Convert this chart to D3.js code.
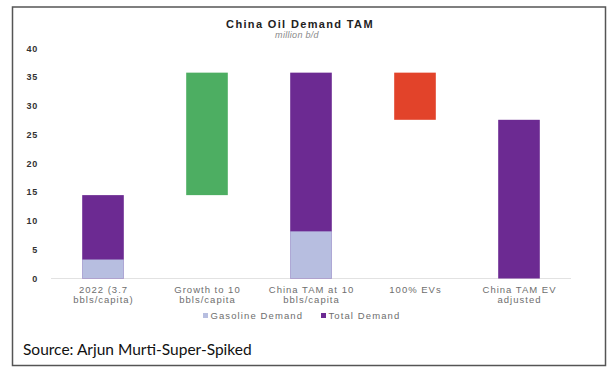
<!DOCTYPE html>
<html>
<head>
<meta charset="utf-8">
<script src="https://cdn.jsdelivr.net/npm/d3@7"></script>
<style>
  body { margin: 0; background: #fff; }
  svg { display: block; }
</style>
</head>
<body>
<div id="chart"></div>
<script>
// data (million b/d)
const categories = ["2022 (3.7|bbls/capita)", "Growth to 10|bbls/capita", "China TAM at 10|bbls/capita", "100% EVs", "China TAM EV|adjusted"];
const gasolineDemand = [3.3, 0, 8.2, 0, 0];
const totalDemand = [14.5, 0, 35.8, 0, 27.6];
const stepFrom = [0, 14.5, 0, 35.8, 0];
const stepTo = [0, 35.8, 0, 27.6, 0];
const stepColors = [null, "#4dae62", null, "#e2432a", null];
const yTicks = [0, 5, 10, 15, 20, 25, 30, 35, 40];

const W = 611, H = 376;
const purple = "#6c2a92", lilac = "#b7bee0";
const font = "Liberation Sans, Arial, sans-serif";

const svg = d3.select("#chart").append("svg")
    .attr("width", W)
    .attr("height", H);

// outer frame
svg.append("rect")
    .attr("x", 12.5).attr("y", 7)
    .attr("width", 593).attr("height", 358.5)
    .attr("fill", "#fff")
    .attr("stroke", "#555")
    .attr("stroke-width", 1.5);

let x = d3.scaleBand()
    .domain(categories)
    .range([51, 571])
    .paddingInner(0.6)
    .paddingOuter(0.3);

let y = d3.scaleLinear()
    .domain([0, 40])
    .range([278.5, 48.5]);

// title
svg.append("text")
    .attr("x", 300).attr("y", 28)
    .attr("text-anchor", "middle")
    .style("font-family", font)
    .style("font-weight", "bold")
    .style("font-size", "11px")
    .style("letter-spacing", "1.35px")
    .style("fill", "#222")
    .text("China Oil Demand TAM");

svg.append("text")
    .attr("x", 297).attr("y", 38)
    .attr("text-anchor", "middle")
    .style("font-family", font)
    .style("font-style", "italic")
    .style("font-size", "9px")
    .style("letter-spacing", "0.3px")
    .style("fill", "#8a8a8a")
    .text("million b/d");

// y tick labels
svg.append("g").selectAll("text")
    .data(yTicks)
    .enter().append("text")
    .attr("x", 38)
    .attr("y", function(d) { return y(d); })
    .attr("dy", "0.35em")
    .attr("text-anchor", "end")
    .style("font-family", font)
    .style("font-weight", "bold")
    .style("font-size", "9px")
    .style("letter-spacing", "0.8px")
    .style("fill", "#333")
    .text(function(d) { return d; });

// baseline
svg.append("line")
    .attr("x1", x.range()[0]).attr("x2", x.range()[1])
    .attr("y1", y(0)).attr("y2", y(0))
    .attr("stroke", "#e2e2e2")
    .attr("stroke-width", 1);

const bars = svg.append("g");

// total demand
bars.selectAll("rect.total")
    .data(categories)
    .enter().append("rect")
    .attr("class", "total")
    .attr("x", function(d) { return x(d); })
    .attr("width", x.bandwidth())
    .attr("y", function(d, i) { return y(totalDemand[i]); })
    .attr("height", function(d, i) { return y(0) - y(totalDemand[i]); })
    .attr("fill", purple);

// gasoline demand
bars.selectAll("rect.gas")
    .data(categories)
    .enter().append("rect")
    .attr("class", "gas")
    .attr("x", function(d) { return x(d); })
    .attr("width", x.bandwidth())
    .attr("y", function(d, i) { return y(gasolineDemand[i]); })
    .attr("height", function(d, i) { return y(0) - y(gasolineDemand[i]); })
    .attr("fill", lilac);

// floating steps (growth / EV reduction)
bars.selectAll("rect.step")
    .data(categories)
    .enter().append("rect")
    .attr("class", "step")
    .attr("x", function(d) { return x(d); })
    .attr("width", x.bandwidth())
    .attr("y", function(d, i) { return y(Math.max(stepFrom[i], stepTo[i])); })
    .attr("height", function(d, i) { return Math.abs(y(stepFrom[i]) - y(stepTo[i])); })
    .attr("fill", function(d, i) { return stepColors[i] || "none"; });

// category labels (two lines)
const lbl = svg.append("g").selectAll("text")
    .data(categories)
    .enter().append("text")
    .attr("text-anchor", "middle")
    .style("font-family", font)
    .style("font-size", "9.5px")
    .style("letter-spacing", "1px")
    .style("fill", "#6e6e6e");
lbl.selectAll("tspan")
    .data(function(d) { return d.split("|").map(function(t) { return {t: t, c: d}; }); })
    .enter().append("tspan")
    .attr("x", function(d) { return x(d.c) + x.bandwidth() / 2 + 0.5; })
    .attr("y", function(d, i) { return 292.5 + i * 10; })
    .text(function(d) { return d.t; });

// legend
const legendItems = [
    {name: "Gasoline Demand", color: lilac, x: 203},
    {name: "Total Demand", color: purple, x: 321}
];
const leg = svg.append("g").selectAll("g")
    .data(legendItems)
    .enter().append("g")
    .attr("transform", function(d) { return "translate(" + d.x + ",315.5)"; });
leg.append("rect")
    .attr("x", 0).attr("y", -2.5)
    .attr("width", 5).attr("height", 5)
    .attr("fill", function(d) { return d.color; });
leg.append("text")
    .attr("x", 7.5).attr("y", 0)
    .attr("dy", "0.35em")
    .style("font-family", font)
    .style("font-size", "9.5px")
    .style("letter-spacing", "1.1px")
    .style("fill", "#6e6e6e")
    .text(function(d) { return d.name; });

// source note
svg.append("text")
    .attr("x", 23).attr("y", 355)
    .style("font-family", "Lato, sans-serif")
    .style("font-size", "15.5px")
    .style("fill", "#111")
    .text("Source: Arjun Murti-Super-Spiked");
</script>
</body>
</html>
